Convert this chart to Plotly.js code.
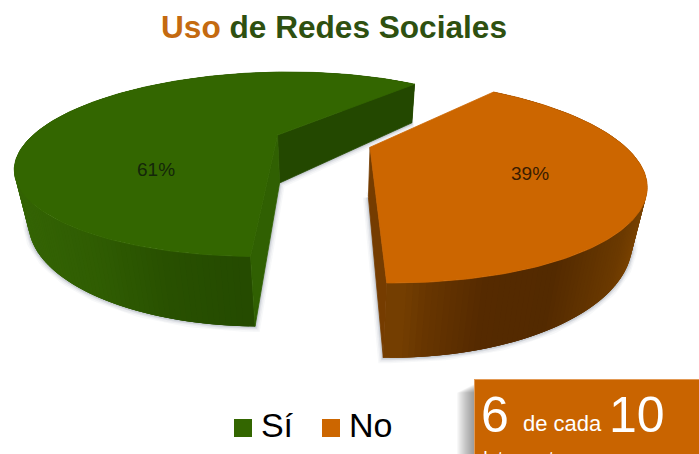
<!DOCTYPE html>
<html>
<head>
<meta charset="utf-8">
<script src="https://cdn.plot.ly/plotly-3.0.1.min.js"></script>
<style>html,body{margin:0;padding:0;background:#fff}#chart{width:699px;height:454px}</style>
</head>
<body>
<div id="chart"></div>
<script>
// Chart content
const categories = ['Sí', 'No'];
const shares = [61, 39];
const topColors = ['#336600', '#cc6600'];
const titleParts = ['Uso', 'de Redes Sociales'];
const calloutParts = ['6', 'de cada', '10', 'Internautas'];

// Perspective disc: world units map to pixel-valued axes
const view = {cx: 324, cy: 141, sx: 250, sy: 86.8, persp: 0.323, depth: 49, vanishX: 330, taper: 0.04};
const explodeOffsets = [[-0.19, 0.07], [0.18, -0.07]];
const firstAngle = 49.5;               // degrees, counter-clockwise from +X

// Wall shading stops, [pixel x, colour]
const wallStops = [
  [[14, [52, 100, 4]], [100, [47, 92, 2]], [170, [40, 80, 0]], [260, [36, 74, 0]]],
  [[380, [125, 68, 2]], [420, [104, 54, 0]], [480, [85, 42, 0]], [550, [83, 42, 0]], [620, [106, 57, 0]], [645, [122, 66, 0]]]
];
const cutFaces = {sliceOneBack: '#234800', sliceOneFront: '#306002', sliceTwoFront: '#753c00'};

function project(X, Y) {
  const w = 1 + view.persp * Y;
  return {x: view.cx + view.sx * X / w, y: view.cy - view.sy * Y / w, w};
}
function lower(p) {
  return {x: p.x + (view.vanishX - p.x) * view.taper / p.w, y: p.y + view.depth / p.w};
}
function shade(stops, x) {
  let c = stops[stops.length - 1][1];
  if (x <= stops[0][0]) c = stops[0][1];
  else for (let i = 1; i < stops.length; i++) {
    if (x <= stops[i][0]) {
      const t = (x - stops[i - 1][0]) / (stops[i][0] - stops[i - 1][0]);
      c = stops[i - 1][1].map((v, k) => Math.round(v + (stops[i][1][k] - v) * t));
      break;
    }
  }
  return 'rgb(' + c.join(',') + ')';
}
function poly(points, color, lineWidth) {
  const closed = points.concat([points[0]]);
  return {
    type: 'scatter', mode: 'lines', x: closed.map(p => p.x), y: closed.map(p => p.y),
    fill: 'toself', fillcolor: color, line: {color, width: lineWidth === undefined ? 0.8 : lineWidth}, hoverinfo: 'skip'
  };
}

// Angular span of each slice from its share
const total = shares.reduce((a, b) => a + b, 0);
const spans = [];
{
  let a = firstAngle;
  shares.forEach(s => { const sweep = 360 * s / total; spans.push([a, a + sweep]); a += sweep; });
}

const sliceParts = shares.map((s, i) => {
  const [ox, oy] = explodeOffsets[i];
  const rim = [];
  const steps = Math.ceil(spans[i][1] - spans[i][0]);
  for (let k = 0; k <= steps; k++) {
    const t = (spans[i][0] + (spans[i][1] - spans[i][0]) * k / steps) * Math.PI / 180;
    rim.push(project(ox + Math.cos(t), oy + Math.sin(t)));
  }
  return {apex: project(ox, oy), rim};
});

const traces = [];

// Soft contact shadow under both slices
sliceParts.forEach(({apex, rim}) => {
  const outline = [apex].concat(rim).map(lower);
  outline.push(outline[0]);
  [[11, 0.04], [8, 0.06], [5, 0.09], [3, 0.10]].forEach(([width, alpha]) => {
    traces.push({type: 'scatter', mode: 'lines', x: outline.map(p => p.x), y: outline.map(p => p.y),
      line: {color: 'rgba(60,75,95,' + alpha + ')', width}, hoverinfo: 'skip'});
  });
});

sliceParts.forEach(({apex, rim}, i) => {
  const apexLow = lower(apex);
  const first = rim[0], last = rim[rim.length - 1];

  // Outer wall: far bands first, each band overlapping the next so no seams show
  const segs = [];
  for (let k = 0; k < rim.length - 1; k++) {
    segs.push([rim[k], rim[k + 1], rim[Math.min(k + 2, rim.length - 1)], rim[Math.max(k - 1, 0)]]);
  }
  segs.sort((a, b) => a[0].y - b[0].y);
  segs.forEach(([a, b, c, d]) => {
    traces.push(poly([d, a, b, c, lower(c), lower(b), lower(a), lower(d)], shade(wallStops[i], (a.x + b.x) / 2), 0));
  });

  // Cut faces
  if (i === 0) {
    traces.push(poly([apex, first, lower(first), apexLow], cutFaces.sliceOneBack));
    traces.push(poly([apex, last, lower(last), apexLow], cutFaces.sliceOneFront));
  } else {
    traces.push(poly([apex, first, lower(first), apexLow], cutFaces.sliceTwoFront));
  }

  // Top face
  traces.push(poly([apex].concat(rim), topColors[i]));
});

// Legend keys with their labels
const legendX = [243, 331];
const legendY = [428, 428];
traces.push({
  type: 'scatter', mode: 'markers+text', x: legendX, y: legendY,
  marker: {symbol: 'square', size: 18, color: topColors, line: {width: 0}},
  text: categories.map(c => '\u2006' + c), textposition: 'middle right',
  textfont: {family: 'Liberation Sans, Arial, sans-serif', size: 34, color: '#000'},
  hoverinfo: 'skip', cliponaxis: false
});

// Callout panel with a fuzzy left edge and a lighter rim
const shapes = [];
for (let d = 17; d >= 1; d--) {
  shapes.push({type: 'rect', xref: 'x', yref: 'y', x0: 474 - d, x1: 480, y0: 384 + d * 0.5, y1: 454,
    fillcolor: 'rgba(50,50,60,0.035)', line: {width: 0}, layer: 'below'});
}
shapes.push({type: 'rect', xref: 'x', yref: 'y', x0: 474, x1: 699, y0: 379, y1: 454,
  fillcolor: '#e39a55', line: {width: 0}, layer: 'below'});
shapes.push({type: 'rect', xref: 'x', yref: 'y', x0: 475, x1: 699, y0: 380, y1: 454,
  fillcolor: '#c96400', line: {width: 0}, layer: 'below'});

const sans = 'Liberation Sans, Arial, sans-serif';
function label(text, x, y, size, color, xanchor, yanchor) {
  return {text, x, y, xref: 'x', yref: 'y', showarrow: false, xanchor: xanchor || 'center', yanchor: yanchor || 'middle',
    font: {family: sans, size, color}};
}
const annotations = [
  label(shares[0] + '%', 156, 169, 19, '#14260a'),
  label(shares[1] + '%', 530, 173, 19, '#3a1c00'),
  label(calloutParts[0], 479, 415, 50, '#fff', 'left'),
  label(calloutParts[1], 521, 423, 22, '#fff', 'left'),
  label(calloutParts[2], 607, 415, 50, '#fff', 'left'),
  label(calloutParts[3], 481, 446, 18, '#fff', 'left', 'top')
];

const layout = {
  width: 699, height: 454,
  margin: {l: 0, r: 0, t: 0, b: 0},
  paper_bgcolor: '#fff', plot_bgcolor: '#fff',
  showlegend: false, hovermode: false,
  title: {
    text: '<span style="color:#c46a10">' + titleParts[0] + '</span> ' + titleParts[1],
    font: {family: sans, size: 31.6, color: '#2e5010', weight: 700},
    x: 334 / 699, xanchor: 'center', y: 1 - 27 / 454, yanchor: 'middle'
  },
  xaxis: {range: [0, 699], visible: false, fixedrange: true},
  yaxis: {range: [454, 0], visible: false, fixedrange: true},
  shapes, annotations
};

Plotly.newPlot('chart', traces, layout, {displayModeBar: false, staticPlot: true});
</script>
</body>
</html>
